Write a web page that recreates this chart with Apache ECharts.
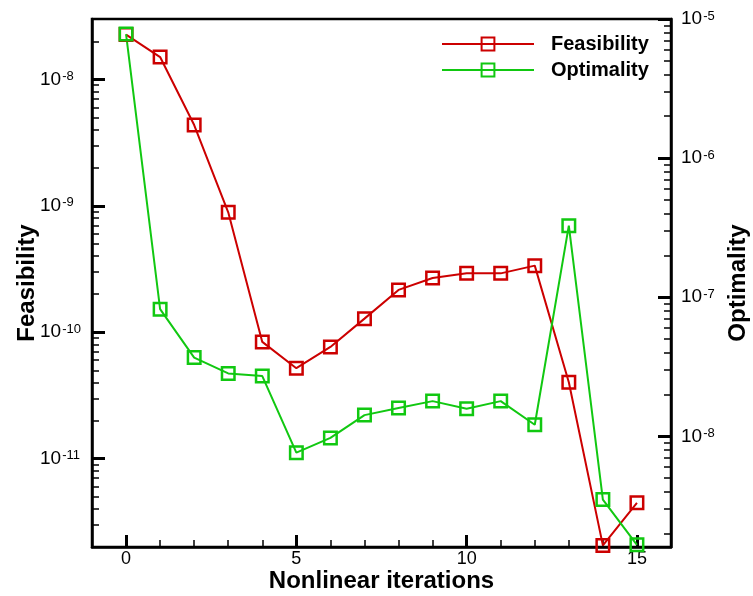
<!DOCTYPE html>
<html>
<head>
<meta charset="utf-8">
<script src="https://cdn.jsdelivr.net/npm/echarts@6/dist/echarts.min.js"></script>
<style>
  html, body { margin: 0; padding: 0; background: #fff; }
  #chart { width: 753px; height: 596px; }
</style>
</head>
<body>
<div id="chart"></div>
<script>
// iterations on the x axis
const iterations = [0, 1, 2, 3, 4, 5, 6, 7, 8, 9, 10, 11, 12, 13, 14, 15];
// left axis series
const feasibility = [2.26e-8, 1.50e-8, 4.35e-9, 8.87e-10, 8.38e-11, 5.19e-11, 7.65e-11, 1.28e-10,
  2.16e-10, 2.68e-10, 2.93e-10, 2.92e-10, 3.36e-10, 4.02e-11, 2.06e-12, 4.47e-12];
// right axis series
const optimality = [7.80e-6, 8.20e-8, 3.68e-8, 2.83e-8, 2.71e-8, 7.63e-9, 9.73e-9, 1.42e-8,
  1.60e-8, 1.79e-8, 1.58e-8, 1.79e-8, 1.21e-8, 3.27e-7, 3.51e-9, 1.66e-9];

// tick positions
const xMajorTicks = [0, 5, 10, 15];
const xMinorTicks = [-1, 0, 1, 2, 3, 4, 5, 6, 7, 8, 9, 10, 11, 12, 13, 14, 15, 16];
const leftDecades = [1e-12, 1e-11, 1e-10, 1e-9, 1e-8];
const rightDecades = [1e-9, 1e-8, 1e-7, 1e-6, 1e-5];
const leftMajor = [1e-11, 1e-10, 1e-9, 1e-8];
const rightMajor = [1e-8, 1e-7, 1e-6, 1e-5];

const RED = '#cc0000';
const GREEN = '#11c811';
const FONT = '"Liberation Sans", Arial, sans-serif';

function minorsOf(decades) {
  const out = [];
  decades.forEach(d => {
    for (let m = 2; m <= 9; m++) out.push(+(d * m).toPrecision(3));
  });
  return out;
}

function powLabel(v) {
  return '10{sup|' + Math.round(Math.log10(v)) + '}';
}

const labelRich = {
  sup: { fontSize: 13, verticalAlign: 'top', fontFamily: FONT, color: '#000', padding: [0, 0, 0, 1] }
};

function majorY(pos, min, max, ticks, name) {
  const left = pos === 'left';
  return {
    type: 'log', position: pos, min: min, max: max,
    axisLine: { show: true, onZero: false, lineStyle: { color: '#000', width: 2.5 } },
    axisTick: { show: true, inside: true, length: 13, customValues: ticks, lineStyle: { color: '#000', width: 3 } },
    axisLabel: { show: true, customValues: ticks, formatter: powLabel, rich: labelRich,
      fontSize: 19, color: '#000', fontFamily: FONT,
      align: 'left', margin: left ? 52 : 10 },
    splitLine: { show: false },
    name: name, nameLocation: 'middle', nameRotate: 90, nameGap: left ? 53 : 55, nameMoveOverlap: false,
    nameTextStyle: { fontSize: 24, fontWeight: 'bold', color: '#000', fontFamily: FONT }
  };
}

function minorY(pos, min, max, ticks) {
  return {
    type: 'log', position: pos, min: min, max: max,
    axisLine: { show: false, onZero: false },
    axisTick: { show: true, inside: true, length: 7, customValues: ticks, lineStyle: { color: '#000', width: 1.5 } },
    axisLabel: { show: false },
    splitLine: { show: false }
  };
}

const chart = echarts.init(document.getElementById('chart'));

const option = {
  animation: false,
  backgroundColor: '#fff',
  textStyle: { fontFamily: FONT },
  grid: {
    left: 92, right: 82, top: 19, bottom: 49, outerBoundsMode: 'none',
    show: true, borderColor: '#000', borderWidth: 2.5, containLabel: false
  },
  legend: {
    orient: 'vertical', left: 436, top: 29,
    itemWidth: 92, itemHeight: 16, itemGap: 6,
    textStyle: { fontSize: 20, fontWeight: 'bold', color: '#000', fontFamily: FONT, padding: [0, 0, 0, 12] },
    data: ['Feasibility', 'Optimality']
  },
  xAxis: [
    {
      type: 'value', position: 'bottom', min: -1, max: 16,
      axisLine: { show: true, onZero: false, lineStyle: { color: '#000', width: 2.5 } },
      axisTick: { show: true, inside: true, length: 12, customValues: xMajorTicks, lineStyle: { color: '#000', width: 3 } },
      axisLabel: { show: true, customValues: xMajorTicks, fontSize: 18, color: '#000', fontFamily: FONT, margin: 3 },
      splitLine: { show: false },
      name: 'Nonlinear iterations', nameLocation: 'middle', nameGap: 22, nameMoveOverlap: false,
      nameTextStyle: { fontSize: 24, fontWeight: 'bold', color: '#000', fontFamily: FONT }
    },
    {
      type: 'value', position: 'bottom', min: -1, max: 16,
      axisLine: { show: false, onZero: false },
      axisTick: { show: true, inside: true, length: 7, customValues: xMinorTicks, lineStyle: { color: '#000', width: 1.5 } },
      axisLabel: { show: false },
      splitLine: { show: false }
    }
  ],
  yAxis: [
    majorY('left', 2e-12, 3e-8, leftMajor, 'Feasibility'),
    minorY('left', 2e-12, 3e-8, minorsOf(leftDecades)),
    majorY('right', 1.6e-9, 1.0001e-5, rightMajor, 'Optimality'),
    minorY('right', 1.6e-9, 1.0001e-5, minorsOf(rightDecades))
  ],
  series: [
    {
      name: 'Feasibility', type: 'line', xAxisIndex: 0, yAxisIndex: 0,
      data: iterations.map((x, i) => [x, feasibility[i]]),
      symbol: 'rect', symbolSize: 12.5, showSymbol: true,
      lineStyle: { color: RED, width: 2 },
      itemStyle: { color: 'rgba(255,255,255,0)', borderColor: RED, borderWidth: 2.5 }
    },
    {
      name: 'Optimality', type: 'line', xAxisIndex: 0, yAxisIndex: 2,
      data: iterations.map((x, i) => [x, optimality[i]]),
      symbol: 'rect', symbolSize: 12.5, showSymbol: true,
      lineStyle: { color: GREEN, width: 2 },
      itemStyle: { color: 'rgba(255,255,255,0)', borderColor: GREEN, borderWidth: 2.5 }
    }
  ]
};

chart.setOption(option);
</script>
</body>
</html>
